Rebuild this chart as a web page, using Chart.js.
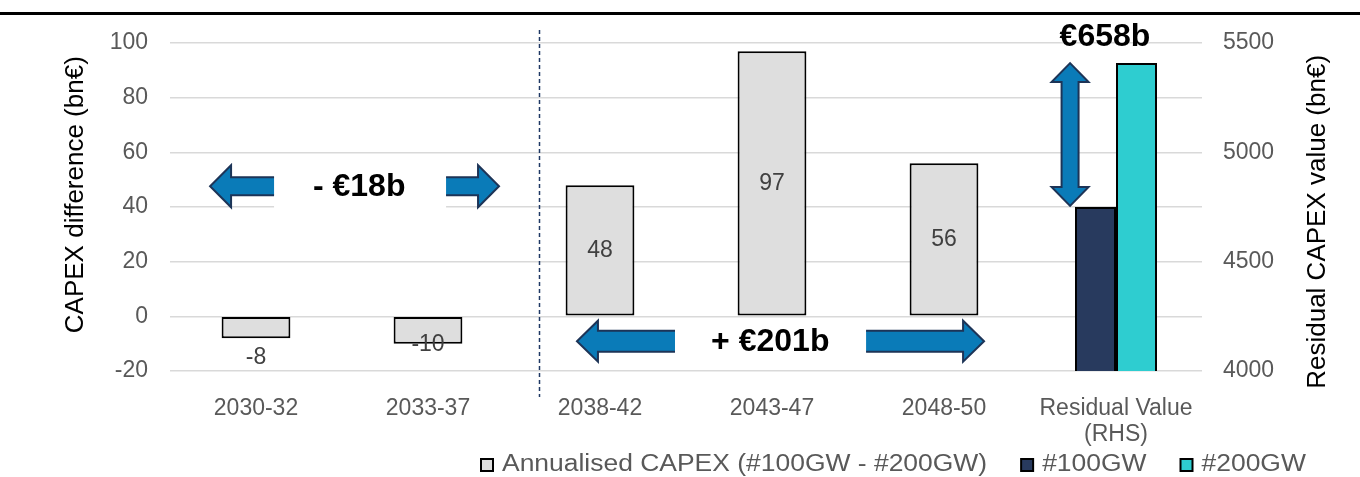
<!DOCTYPE html>
<html>
<head>
<meta charset="utf-8">
<script src="https://cdn.jsdelivr.net/npm/chart.js@4.4.1/dist/chart.umd.min.js"></script>
<style>
  body { margin: 0; background: #fff; }
  #wrap { width: 1360px; height: 477px; }
</style>
</head>
<body>
<div id="wrap"><canvas id="chart" width="1360" height="477"></canvas></div>
<script>
const FONT = '"Liberation Sans", Arial, sans-serif';

// values
const categories = ['2030-32', '2033-37', '2038-42', '2043-47', '2048-50', ['Residual Value', '(RHS)']];
const annualisedCapex = [-8, -10, 48, 97, 56, null];
const residual100GW = [null, null, null, null, null, 4750];
const residual200GW = [null, null, null, null, null, 5408];
const leftTicks = { min: -20, max: 100, step: 20 };
const rightTicks = { min: 4000, max: 5500, step: 500 };
const annualisedLabelPos = ['below', 'end', 'middle', 'middle', 'middle', null];

const colors = { annualised: '#dedede', gw100: '#283a5e', gw200: '#2ecdd0', arrow: '#0a7bb8', arrowEdge: '#1d3457' };

function hArrow(ctx, tipX, tailX, y, headLen, headHalf, bodyHalf) {
  const dir = tailX > tipX ? 1 : -1;
  const baseX = tipX + dir * headLen;
  ctx.beginPath();
  ctx.moveTo(tailX, y - bodyHalf);
  ctx.lineTo(baseX, y - bodyHalf);
  ctx.lineTo(baseX, y - headHalf);
  ctx.lineTo(tipX, y);
  ctx.lineTo(baseX, y + headHalf);
  ctx.lineTo(baseX, y + bodyHalf);
  ctx.lineTo(tailX, y + bodyHalf);
  ctx.fillStyle = colors.arrow;
  ctx.fill();
  ctx.strokeStyle = colors.arrowEdge;
  ctx.lineWidth = 2;
  ctx.stroke();
}

function vArrow(ctx, x, yTop, yBot, headLen, headHalf, bodyHalf) {
  ctx.beginPath();
  ctx.moveTo(x, yTop);
  ctx.lineTo(x + headHalf, yTop + headLen);
  ctx.lineTo(x + bodyHalf, yTop + headLen);
  ctx.lineTo(x + bodyHalf, yBot - headLen);
  ctx.lineTo(x + headHalf, yBot - headLen);
  ctx.lineTo(x, yBot);
  ctx.lineTo(x - headHalf, yBot - headLen);
  ctx.lineTo(x - bodyHalf, yBot - headLen);
  ctx.lineTo(x - bodyHalf, yTop + headLen);
  ctx.lineTo(x - headHalf, yTop + headLen);
  ctx.closePath();
  ctx.fillStyle = colors.arrow;
  ctx.fill();
  ctx.strokeStyle = colors.arrowEdge;
  ctx.lineWidth = 2;
  ctx.stroke();
}

function boldText(ctx, text, x, y) {
  ctx.font = 'bold 32px ' + FONT;
  ctx.fillStyle = '#000';
  ctx.textAlign = 'center';
  ctx.textBaseline = 'middle';
  ctx.fillText(text, x, y);
}

function axisTitle(ctx, text, x, y) {
  ctx.save();
  ctx.translate(x, y);
  ctx.rotate(-Math.PI / 2);
  ctx.font = '26px ' + FONT;
  ctx.fillStyle = '#000';
  ctx.textAlign = 'center';
  ctx.textBaseline = 'middle';
  ctx.fillText(text, 0, 0);
  ctx.restore();
}

const overlay = {
  id: 'overlay',
  afterDatasetsDraw(chart) {
    const ctx = chart.ctx;
    const meta = chart.getDatasetMeta(0);
    ctx.save();
    ctx.font = '23px ' + FONT;
    ctx.fillStyle = '#404040';
    ctx.textAlign = 'center';
    ctx.textBaseline = 'middle';
    meta.data.forEach((bar, i) => {
      const v = annualisedCapex[i];
      if (v === null) return;
      const p = annualisedLabelPos[i];
      let ty = (bar.y + bar.base) / 2;
      if (p === 'below') ty = bar.y + 19;
      if (p === 'end') ty = bar.y + 1;
      ctx.fillText(String(v), bar.x, ty);
    });
    ctx.restore();
  },
  afterDraw(chart) {
    const { ctx, chartArea, scales: { x, y, y1 } } = chart;
    ctx.save();

    // rule under the (cropped) page title
    ctx.fillStyle = '#000';
    ctx.fillRect(0, 12, chart.width, 3);

    // axis titles, both reading bottom to top
    axisTitle(ctx, 'CAPEX difference (bn€)', 76, y.getPixelForValue(44.5));
    axisTitle(ctx, 'Residual CAPEX value (bn€)', 1318, y1.getPixelForValue(4682));

    // dashed divider
    const dx = Math.round(x.getPixelForValue(1.645)) + 0.5;
    ctx.setLineDash([4, 3]);
    ctx.strokeStyle = '#1f3864';
    ctx.lineWidth = 1.5;
    ctx.beginPath();
    ctx.moveTo(dx, chartArea.top - 13);
    ctx.lineTo(dx, chartArea.bottom + 26);
    ctx.stroke();
    ctx.setLineDash([]);

    // - €18b
    const ya = y.getPixelForValue(47.6);
    const tl = x.getPixelForValue(0.105), tr = x.getPixelForValue(1.105);
    ctx.fillStyle = '#fff';
    ctx.fillRect(tl, ya - 22, tr - tl, 45);
    hArrow(ctx, x.getPixelForValue(-0.267), tl, ya, 21, 21, 9);
    hArrow(ctx, x.getPixelForValue(1.413), tr, ya, 21, 21, 9);
    boldText(ctx, '- €18b', x.getPixelForValue(0.6), ya + 1);

    // + €201b
    const yb = y.getPixelForValue(-9.1);
    hArrow(ctx, x.getPixelForValue(1.866), x.getPixelForValue(2.436), yb, 21, 20.5, 10.5);
    hArrow(ctx, x.getPixelForValue(4.233), x.getPixelForValue(3.547), yb, 21, 20.5, 10.5);
    boldText(ctx, '+ €201b', x.getPixelForValue(2.99), yb + 1);

    // €658b
    vArrow(ctx, x.getPixelForValue(4.733), y1.getPixelForValue(5408), y1.getPixelForValue(4755), 19, 18.5, 8.5);
    boldText(ctx, '€658b', x.getPixelForValue(4.936), chartArea.top - 6);

    // legend
    const items = chart.data.datasets.map(d => ({ text: d.label, fill: d.backgroundColor }));
    const sx = 1.15;
    let lx = 481;
    const ly = 465;
    ctx.font = '23px ' + FONT;
    ctx.textAlign = 'left';
    ctx.textBaseline = 'middle';
    items.forEach(it => {
      ctx.fillStyle = it.fill;
      ctx.fillRect(lx, ly - 6, 12, 12);
      ctx.strokeStyle = '#000';
      ctx.lineWidth = 2;
      ctx.strokeRect(lx, ly - 6, 12, 12);
      const tx = lx + 21;
      ctx.save();
      ctx.translate(tx, ly);
      ctx.scale(sx, 1);
      ctx.fillStyle = '#595959';
      ctx.fillText(it.text, 0, 0);
      ctx.restore();
      lx = tx + ctx.measureText(it.text).width * sx + 34;
    });

    ctx.restore();
  }
};

Chart.defaults.font.family = FONT;

new Chart(document.getElementById('chart'), {
  type: 'bar',
  data: {
    labels: categories,
    datasets: [
      {
        label: 'Annualised CAPEX (#100GW - #200GW)',
        data: annualisedCapex,
        yAxisID: 'y',
        backgroundColor: colors.annualised,
        borderColor: '#000',
        borderWidth: 2,
        borderSkipped: false,
        grouped: false,
        categoryPercentage: 0.4,
        barPercentage: 1
      },
      {
        label: '#100GW',
        data: residual100GW,
        yAxisID: 'y1',
        backgroundColor: colors.gw100,
        borderColor: '#000',
        borderWidth: 2,
        borderSkipped: false,
        categoryPercentage: 0.477,
        barPercentage: 1
      },
      {
        label: '#200GW',
        data: residual200GW,
        yAxisID: 'y1',
        backgroundColor: colors.gw200,
        borderColor: '#000',
        borderWidth: 2,
        borderSkipped: false,
        categoryPercentage: 0.477,
        barPercentage: 1
      }
    ]
  },
  options: {
    responsive: false,
    animation: false,
    layout: { padding: { top: 43, left: 0, right: 0, bottom: 0 } },
    plugins: {
      legend: { display: false },
      tooltip: { enabled: false }
    },
    scales: {
      x: {
        grid: { display: false },
        border: { display: false },
        ticks: {
          color: '#595959',
          font: { size: 23, lineHeight: 1.15 },
          padding: 16,
          maxRotation: 0,
          autoSkip: false
        },
        afterFit: s => { s.height = 106; }
      },
      y: {
        position: 'left',
        min: leftTicks.min,
        max: leftTicks.max,
        ticks: { stepSize: leftTicks.step, color: '#595959', font: { size: 23 }, padding: 22 },
        grid: { color: '#d9d9d9', lineWidth: 1.5, drawTicks: false },
        border: { display: false },
        afterFit: s => { s.width = 170; }
      },
      y1: {
        position: 'right',
        min: rightTicks.min,
        max: rightTicks.max,
        ticks: {
          stepSize: rightTicks.step,
          color: '#595959',
          font: { size: 23 },
          padding: 21,
          callback: v => String(v)
        },
        grid: { display: false, drawTicks: false },
        border: { display: false },
        afterFit: s => { s.width = 158; }
      }
    }
  },
  plugins: [overlay]
});
</script>
</body>
</html>
